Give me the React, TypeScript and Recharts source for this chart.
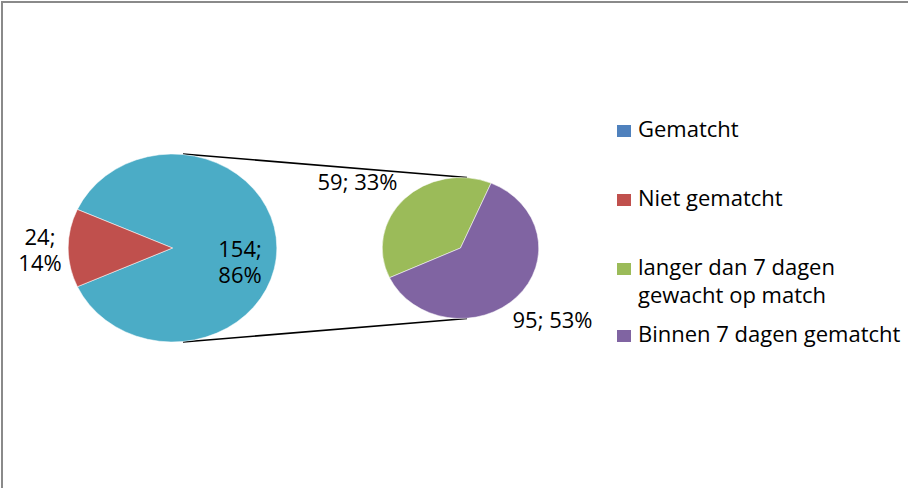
import { PieChart, Pie, Cell } from 'recharts';

// main pie: the matched slice is split out in the secondary pie
const mainCategories = ['Gematcht', 'Niet gematcht'];
const mainValues = [154, 24];
const mainPercents = [86, 14];
const subCategories = ['langer dan 7 dagen gewacht op match', 'Binnen 7 dagen gematcht'];
const subValues = [59, 95];
const subPercents = [33, 53];

const legendLabels = ['Gematcht', 'Niet gematcht', 'langer dan 7 dagen gewacht op match', 'Binnen 7 dagen gematcht'];
const legendColors = ['#4F81BD', '#C0504D', '#9BBB59', '#8064A2'];

const mainColors = ['#4BACC6', '#C0504D'];
const subColors = ['#9BBB59', '#8064A2'];

// pies are drawn round and stretched sideways to get Excel's ellipses
const SX = 1.11;
const CY = 248;
const LEFT = { cx: 172.5 / SX, r: 94 };
const RIGHT = { cx: 460.5 / SX, r: 70.5 };
const FONT = '"Open Sans", sans-serif';

const mainData = mainCategories.map((name, i) => ({ name, value: mainValues[i], pct: mainPercents[i] }));
const subData = subCategories.map((name, i) => ({ name, value: subValues[i], pct: subPercents[i] }));

// label anchor: screen px from the pie centre to the first baseline
const mainLabelPos = [
  { dx: 67.5, dy: 9, split: true },
  { dx: -132.5, dy: -3, split: true },
];
const subLabelPos = [
  { dx: -103, dy: -58.5, split: false },
  { dx: 92, dy: 79.5, split: false },
];

const makeLabel = (pos: { dx: number; dy: number; split: boolean }[]) => (props: any) => {
  const { cx, cy, index, value, payload } = props;
  const p = pos[index];
  const pct = payload?.pct ?? payload?.payload?.pct;
  const x = cx + p.dx / SX;
  const y = cy + p.dy;
  return (
    <text
      transform={`translate(${x},${y}) scale(${1 / SX},1)`}
      textAnchor="middle"
      fill="#000"
      fontSize={22}
      fontFamily={FONT}
    >
      {p.split ? (
        <>
          <tspan x={0} dy={0}>{`${value};`}</tspan>
          <tspan x={0} dy={26}>{`${pct}%`}</tspan>
        </>
      ) : (
        `${value}; ${pct}%`
      )}
    </text>
  );
};

const legendTops = [114, 183, 252, 319];

export default function App() {
  const lx = LEFT.cx * SX;
  const rx = RIGHT.cx * SX;
  return (
    <div
      style={{
        position: 'absolute',
        left: 0,
        top: 0,
        width: 908,
        height: 488,
        background: '#fff',
        overflow: 'hidden',
        fontFamily: FONT,
      }}
    >
      <div
        style={{
          position: 'absolute',
          left: 1,
          top: 1,
          width: 907,
          height: 487,
          borderTop: '2px solid #8a8a8a',
          borderLeft: '2px solid #8a8a8a',
          boxSizing: 'border-box',
        }}
      />
      <svg width={908} height={488} style={{ position: 'absolute', left: 0, top: 0 }}>
        <line x1={lx + 10.5} y1={CY - LEFT.r} x2={rx + 6.5} y2={CY - RIGHT.r} stroke="#000" strokeWidth={1.5} />
        <line x1={lx + 10.5} y1={CY + LEFT.r} x2={rx + 6.5} y2={CY + RIGHT.r} stroke="#000" strokeWidth={1.5} />
      </svg>
      <div
        style={{
          position: 'absolute',
          left: 0,
          top: 0,
          transform: `scaleX(${SX})`,
          transformOrigin: '0 0',
        }}
      >
        <PieChart width={560} height={488} margin={{ top: 0, right: 0, bottom: 0, left: 0 }}>
          <Pie
            data={mainData}
            dataKey="value"
            cx={LEFT.cx}
            cy={CY}
            outerRadius={LEFT.r}
            startAngle={204.3}
            endAngle={564.3}
            stroke="#fff"
            strokeWidth={0.5}
            label={makeLabel(mainLabelPos)}
            labelLine={false}
            isAnimationActive={false}
          >
            {mainData.map((d, i) => (
              <Cell key={d.name} fill={mainColors[i]} />
            ))}
          </Pie>
          <Pie
            data={subData}
            dataKey="value"
            cx={RIGHT.cx}
            cy={CY}
            outerRadius={RIGHT.r}
            startAngle={67}
            endAngle={427}
            stroke="#fff"
            strokeWidth={0.5}
            label={makeLabel(subLabelPos)}
            labelLine={false}
            isAnimationActive={false}
          >
            {subData.map((d, i) => (
              <Cell key={d.name} fill={subColors[i]} />
            ))}
          </Pie>
        </PieChart>
      </div>
      {legendLabels.map((name, i) => (
        <div
          key={name}
          style={{
            position: 'absolute',
            left: 617,
            top: legendTops[i],
            width: 290,
            display: 'flex',
            fontSize: 22,
            lineHeight: '28px',
            color: '#000',
          }}
        >
          <span
            style={{
              display: 'inline-block',
              width: 14,
              height: 12,
              marginTop: 11,
              marginRight: 7,
              background: legendColors[i],
              flexShrink: 0,
            }}
          />
          <span style={{ width: 268 }}>{name}</span>
        </div>
      ))}
    </div>
  );
}
